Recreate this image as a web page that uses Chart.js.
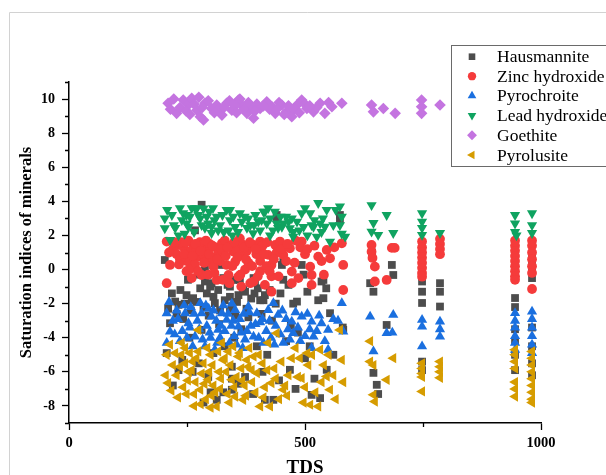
<!DOCTYPE html>
<html>
<head>
<meta charset="utf-8">
<script src="https://cdn.jsdelivr.net/npm/chart.js@4.4.1/dist/chart.umd.min.js"></script>
<style>
html,body{margin:0;padding:0;background:#fff;}
#wrap{width:606px;height:475px;position:relative;}
</style>
</head>
<body>
<div id="wrap"><canvas id="c" width="606" height="475"></canvas></div>
<script>
// ---- data: [TDS, saturation index] ----
const seriesNames = ["Hausmannite","Zinc hydroxide","Pyrochroite","Lead hydroxide","Goethite","Pyrolusite"];
const xTickLabels = [0, 500, 1000];
const yTickLabels = [-8,-6,-4,-2,0,2,4,6,8,10];

const hausmannite = [
[203,0.56],[207,-4.9],[214,-3.15],[225,-1.88],[232,-2.07],[245,-2.0],[249,-1.5],[260,-1.8],[263,-1.68],[278,-1.1],
[281,-3.54],[288,0],[288,-0.7],[299,-1.0],[306,-1.6],[306,-4.9],[309,-1.97],[313,-7.64],[324,0.27],[327,-0.5],
[341,-1.0],[341,-1.6],[341,-2.4],[345,-2.17],[345,-5.7],[345,-6.4],[345,-7.05],[348,-0.61],[359,-1.5],[369,-1.2],
[373,-1.3],[373,-6.3],[391,-0.5],[393,-1.4],[394,-0.7],[405,-1.8],[412,-1.8],[415,-1.5],[415,-7.64],[433,-7.64],
[440,3.0],[440,3.2],[451,0.27],[454,0.46],[454,-0.6],[468,-5.88],[475,-2.0],[483,-1.88],[485,-3.7],[493,0.27],
[497,-0.3],[514,-7.35],[528,-1.8],[532,-7.54],[535,-0.7],[539,-1.68],[539,-0.61],[546,-5.88],[553,-2.56],[574,3.2],
[574,2.9],[581,-3.54],[267,2.3],[281,3.8],[262,-6.0],[275,-5.5],[295,-6.3],[300,-7.2],[330,-4.5],[350,-4.0],
[365,-3.5],[398,-4.5],[420,-5.0],[445,-6.5],[460,-4.2],[500,-5.2],[520,-6.4],[560,-5.0],[240,-5.3],[220,-6.8],
[255,-4.0],[318,-3.2],[380,-2.8],[430,-3.0],
[210,-2.3],[218,-1.4],[228,-2.6],[236,-1.2],[242,-2.9],[252,-0.6],[258,-2.4],[270,-1.9],[274,-0.3],[285,-2.2],
[292,-1.4],[296,-2.7],[302,-0.8],[316,-1.2],[320,-2.4],[330,-1.8],[336,-0.9],[352,-2.7],[356,-1.9],[362,-0.6],
[376,-2.3],[386,-1.7],[400,-1.1],[408,-2.6],[425,-1.2],[438,-2.0],[448,-1.4],[465,-0.9],[470,-3.3],[505,-1.3],
[545,-1.1],[232,-5.9],[285,-7.8],[327,-7.2],[358,-6.7],[390,-7.3],[410,-6.0],[480,-7.0],[510,-4.5],
[580,-3.4],[638,-0.8],[642,1.0],[645,-1.3],[673,-3.25],[684,0.27],[687,-0.32],[645,-6.06],[652,-6.76],[655,-7.3],
[748,-0.7],[748,-1.3],[748,-1.96],[748,-5.4],[748,-5.9],[786,-0.8],[786,-1.3],[786,-2.17],
[945,-1.67],[945,-2.2],[945,-3.5],[945,-4.2],[945,-5.0],[945,-5.9],[981,0.76],[981,0.4],[981,0],[981,-0.5],
[981,-3.4],[981,-4.5],[981,-5.5],[981,-6.2]
];

const zincHydroxide = [
[207,1.64],[214,0.27],[207,-0.8],[231,1.44],[242,1.34],[249,1.05],[249,0.5],[249,-0.1],[256,0.46],[263,1.44],
[274,0.76],[281,-0.32],[288,1.44],[295,0.46],[306,0.17],[313,-0.61],[324,1.54],[327,0.95],[334,0.27],[338,-0.32],
[348,1.05],[352,0.46],[359,-0.41],[362,1.83],[369,0.86],[373,0],[384,-0.8],[387,1.44],[391,1.44],[391,-0.7],
[405,1.64],[405,1.1],[405,0.5],[405,-0.1],[415,-0.9],[422,0.86],[429,0.27],[429,-0.4],[429,-1.3],[437,1.44],
[447,1.64],[454,0.86],[468,1.25],[472,-0.12],[472,-0.8],[490,1.3],[493,1.64],[511,0.17],[514,-0.32],[514,-0.9],
[528,0.76],[546,1.15],[553,0.66],[578,1.54],[581,0.27],[581,-1.2],
[220,1.2],[228,0.9],[235,0.6],[238,1.6],[253,1.7],[258,1.1],[267,0.3],[270,1.2],[277,1.6],[284,0.9],
[292,1.1],[298,1.5],[302,0.7],[310,1.3],[317,1.0],[320,0.5],[330,1.7],[343,1.4],[355,1.2],[366,1.5],
[377,1.1],[380,0.4],[397,0.9],[410,1.4],[418,0.2],[440,1.0],[460,0.5],[480,1.7],[500,0.9],[520,1.4],
[540,-0.3],[295,-0.3],[260,-0.5],[340,-0.8],[365,-1.0],
[212,1.0],[224,1.6],[233,0.3],[244,0.9],[247,1.6],[255,0.0],[262,0.8],[268,1.5],[273,-0.1],[279,1.1],
[286,0.4],[290,1.7],[297,0.9],[304,1.4],[308,-0.2],[314,0.6],[322,1.2],[326,-0.6],[332,0.8],[336,1.3],
[346,0.2],[350,1.6],[357,0.7],[363,-0.3],[371,1.3],[375,0.6],[383,1.6],[388,0.2],[395,1.2],[400,-0.4],
[413,0.9],[420,1.6],[425,-0.1],[434,0.6],[444,-0.4],[450,1.2],[463,1.5],[478,0.4],[486,-0.5],[505,1.2],
[535,0.5],[562,1.3],
[641,1.44],[641,1.05],[643,0.68],[648,0.17],[648,-0.7],[673,-0.61],[684,1.27],[690,1.27],
[748,1.64],[748,1.3],[748,1.0],[748,0.7],[748,0.4],[748,0.1],[748,-0.2],[748,-0.42],
[786,1.8],[786,1.5],[786,1.2],[786,0.9],
[945,1.7],[945,1.4],[945,1.1],[945,0.8],[945,0.5],[945,0.2],[945,-0.1],[945,-0.4],[945,-0.6],
[981,1.7],[981,1.4],[981,1.0],[981,0.6],[981,0.2],[981,-0.2],[981,-1.14]
];

const pyrochroite = [
[207,-2.56],[207,-4.3],[214,-3.64],[246,-2.56],[253,-3.15],[278,-1.97],[281,-2.56],[267,-3.93],[302,-2.76],[316,-3.54],
[324,-2.56],[334,-2.95],[352,-2.37],[359,-3.35],[380,-2.17],[373,-4.1],[309,-4.7],[288,-4.5],[235,-4.2],[398,-2.56],
[422,-2.37],[433,-1.97],[443,-2.66],[454,-4.3],[472,-3.05],[475,-3.73],[493,-2.76],[514,-3.05],[518,-3.93],[535,-3.15],
[549,-3.54],[549,-4.7],[578,-1.97],[412,-4.3],[468,-4.1],[391,-3.93],[514,-4.6],
[220,-3.0],[228,-2.4],[240,-3.6],[258,-2.2],[262,-4.5],[272,-3.0],[292,-3.3],[296,-2.3],[312,-3.0],[320,-4.0],
[330,-3.6],[340,-4.3],[345,-2.0],[348,-3.0],[365,-3.7],[370,-2.6],[385,-3.3],[405,-3.1],[418,-3.6],[428,-4.0],
[438,-3.3],[448,-3.8],[460,-2.9],[485,-3.4],[500,-3.9],[505,-2.6],[525,-3.6],[560,-2.9],[300,-4.0],[355,-4.4],
[212,-1.9],[224,-3.8],[231,-2.9],[244,-2.1],[250,-4.0],[256,-3.4],[265,-2.6],[276,-3.5],[283,-4.1],[290,-2.1],
[298,-3.7],[306,-2.4],[314,-4.3],[322,-3.3],[327,-2.1],[337,-2.6],[344,-3.3],[350,-3.9],[362,-2.9],[368,-4.6],
[377,-3.6],[382,-2.5],[395,-3.2],[402,-4.0],[410,-2.9],[425,-3.0],[435,-4.4],[452,-2.4],[464,-3.5],[480,-2.5],
[490,-4.2],[510,-3.5],[530,-2.7],[542,-4.2],[570,-3.0],
[581,-3.64],[638,-2.76],[687,-2.66],[673,-3.73],[685,-3.7],[645,-4.8],
[748,-2.95],[748,-3.35],[748,-4.5],[786,-3.05],[786,-3.5],[786,-3.93],
[945,-2.55],[945,-3.0],[945,-3.4],[945,-3.9],[945,-4.3],[945,-4.7],
[981,-2.47],[981,-2.9],[981,-3.4],[981,-3.9],[981,-4.4],[981,-4.9]
];

const leadHydroxide = [
[203,3.0],[203,2.42],[214,1.73],[225,2.44],[239,2.9],[242,3.3],[249,2.71],[249,3.2],[256,3.1],[260,3.6],
[267,3.6],[271,3.59],[274,3.2],[281,2.6],[285,3.59],[288,2.44],[292,3.1],[302,2.14],[302,2.51],[313,3.1],
[320,2.6],[334,3.5],[341,2.9],[341,3.49],[352,2.5],[358,2.2],[366,2.8],[377,2.44],[384,2.6],[390,2.13],
[401,2.81],[412,3.4],[415,3.39],[419,2.7],[426,2.0],[426,3.0],[440,2.71],[443,2.44],[451,2.51],[454,2.7],
[468,2.42],[472,3.0],[475,2.2],[475,1.93],[483,2.81],[493,3.3],[497,2.5],[511,3.3],[514,2.6],[518,2.51],
[525,1.93],[528,3.9],[532,2.71],[535,2.2],[542,2.51],[546,3.5],[553,1.64],[574,3.7],[574,2.6],[578,3.1],
[578,2.1],[585,1.93],
[218,3.2],[232,2.0],[265,2.2],[297,3.4],[308,2.9],[328,2.2],[346,2.0],[372,3.1],[395,3.2],[405,2.3],
[432,2.3],[460,3.1],[505,2.0],
[208,3.5],[222,2.6],[235,3.6],[245,2.1],[253,2.5],[278,3.0],[295,2.7],[305,3.6],[316,2.3],[325,3.2],
[338,2.3],[348,3.1],[362,3.3],[380,3.0],[392,2.6],[408,2.9],[422,3.6],[436,3.4],[448,3.1],[465,2.8],
[488,2.3],[500,3.6],[520,2.9],[538,3.0],[560,2.6],[565,3.5],
[641,3.78],[673,3.2],[645,2.73],[641,2.22],[655,2.03],[687,2.14],
[748,3.3],[748,2.8],[748,2.44],[748,2.03],[786,2.14],
[945,3.2],[945,2.7],[945,2.2],[948,2.0],[981,3.3],[981,2.6],[981,2.14]
];

const goethite = [
[210,9.75],[228,9.16],[242,9.94],[253,9.65],[260,10.04],[271,9.35],[278,8.96],[285,8.77],[288,9.75],[302,9.45],
[313,9.65],[324,9.06],[334,9.75],[345,9.35],[359,9.94],[366,9.65],[377,9.16],[384,9.55],[391,8.87],[405,9.45],
[419,9.84],[430,9.55],[437,9.16],[451,9.65],[461,9.25],[472,8.96],[483,9.65],[493,9.94],[504,9.45],[518,9.25],
[532,9.75],[542,9.16],[557,9.55],[578,9.75],
[235,9.5],[248,9.3],[265,9.7],[295,9.9],[318,9.4],[340,9.9],[352,9.6],[370,9.4],[398,9.7],[425,9.4],
[445,9.8],[465,9.6],[500,9.7],[525,9.5],
[215,9.4],[222,10.0],[256,9.1],[275,10.1],[282,9.5],[308,9.2],[328,9.5],[355,9.2],[362,10.0],[380,9.8],
[394,9.3],[412,9.6],[440,9.4],[456,9.1],[478,9.4],[488,9.2],[510,9.6],[550,9.8],
[641,9.65],[645,9.25],[666,9.45],[691,9.16],[747,9.94],[747,9.55],[747,9.16],[786,9.65]
];

const pyrolusite = [
[207,-5.0],[210,-6.66],[239,-4.3],[246,-4.6],[246,-5.5],[235,-5.7],[260,-5.9],[274,-3.54],[281,-6.1],[278,-7.05],
[295,-6.47],[306,-6.8],[313,-8.03],[324,-4.3],[327,-5.3],[345,-6.47],[352,-7.45],[359,-5.1],[377,-5.3],[369,-7.64],
[387,-5.88],[391,-5.1],[398,-6.07],[405,-8.03],[426,-8.03],[422,-4.3],[429,-6.66],[440,-3.73],[454,-7.05],[458,-6.8],
[472,-5.2],[489,-5.2],[493,-6.37],[507,-5.6],[511,-7.93],[528,-8.03],[532,-4.7],[546,-6.27],[553,-7.05],[574,-3.54],
[578,-5.3],[581,-6.6],[522,-7.2],
[220,-5.6],[228,-6.2],[252,-6.5],[256,-4.9],[265,-7.3],[270,-5.2],[285,-5.5],[290,-7.6],[300,-5.0],[302,-7.4],
[318,-6.0],[320,-7.0],[333,-6.0],[338,-4.8],[340,-7.8],[355,-6.3],[365,-5.8],[372,-6.8],[382,-4.6],[395,-7.2],
[410,-5.5],[415,-6.9],[435,-5.8],[445,-7.6],[465,-6.2],[480,-4.6],[500,-6.9],[515,-5.0],[540,-5.6],[560,-6.2],
[300,-8.1],[265,-8.0],[242,-6.9],[214,-4.4],
[205,-6.2],[217,-7.1],[225,-4.9],[231,-7.5],[238,-5.0],[249,-7.3],[254,-6.0],[262,-5.4],[268,-6.6],[274,-4.8],
[279,-7.9],[287,-6.7],[293,-4.6],[297,-6.0],[304,-5.6],[310,-7.2],[316,-4.8],[322,-6.4],[330,-5.2],[336,-7.3],
[342,-5.6],[348,-4.5],[350,-6.9],[362,-4.9],[367,-6.5],[375,-7.4],[380,-5.7],[388,-6.6],[402,-5.0],[412,-7.5],
[420,-5.9],[438,-6.4],[450,-5.4],[462,-7.4],[485,-6.3],[497,-7.8],[505,-4.9],[535,-6.6],[550,-5.0],[565,-7.6],
[638,-4.2],[638,-5.4],[645,-5.6],[673,-6.47],[645,-7.35],[648,-7.74],[687,-5.2],
[748,-5.5],[748,-5.8],[748,-6.1],[748,-6.3],[748,-7.15],[786,-5.4],[786,-5.7],[786,-6.0],[786,-6.35],
[945,-4.7],[945,-5.0],[945,-5.4],[945,-5.8],[945,-6.6],[945,-7.0],[945,-7.45],
[981,-4.8],[981,-5.2],[981,-5.6],[981,-6.0],[981,-6.4],[981,-6.8],[981,-7.2],[981,-7.6],[981,-7.8]
];

const seriesData = [hausmannite, zincHydroxide, pyrochroite, leadHydroxide, goethite, pyrolusite];
const seriesColors = ["#4d4d4d","#f53b3b","#1a6fdf","#0fa360","#c474e0","#d69c00"];
const seriesStyles = [
  {pointStyle:'rect', radius:5.5, rotation:0},
  {pointStyle:'circle', radius:4.9, rotation:0},
  {pointStyle:'triangle', radius:5.9, rotation:0},
  {pointStyle:'triangle', radius:5.9, rotation:180},
  {pointStyle:'rectRot', radius:5.8, rotation:0},
  {pointStyle:'triangle', radius:5.9, rotation:270}
];

const SERIF = '"Liberation Serif", "Times New Roman", serif';

const datasets = seriesNames.map((name, i) => ({
  label: name,
  data: seriesData[i].map(p => ({x: p[0], y: p[1]})),
  backgroundColor: seriesColors[i],
  borderColor: seriesColors[i],
  pointStyle: seriesStyles[i].pointStyle,
  pointRadius: seriesStyles[i].radius,
  pointRotation: seriesStyles[i].rotation,
  pointBorderWidth: 0,
  pointHoverRadius: seriesStyles[i].radius,
  order: seriesNames.length - i
}));

const framePlugin = {
  id: 'frame',
  beforeDraw(chart) {
    const ctx = chart.ctx;
    ctx.save();
    ctx.fillStyle = '#fff';
    ctx.fillRect(0, 0, chart.width, chart.height);
    ctx.strokeStyle = '#d2d2d2';
    ctx.lineWidth = 1;
    ctx.beginPath();
    ctx.moveTo(9.5, 475); ctx.lineTo(9.5, 12.5); ctx.lineTo(606, 12.5);
    ctx.stroke();
    ctx.restore();
  }
};

const minorTickPlugin = {
  id: 'minorTicks',
  afterDraw(chart) {
    const ctx = chart.ctx;
    const xs = chart.scales.x, ys = chart.scales.y;
    ctx.save();
    ctx.strokeStyle = '#000';
    ctx.lineWidth = 1.3;
    ctx.beginPath();
    for (let v = -9; v <= 11; v++) {
      if (v % 2 !== 0) {
        const py = Math.round(ys.getPixelForValue(v)) + 0.5;
        ctx.moveTo(xs.left - 4, py); ctx.lineTo(xs.left, py);
      }
    }
    [250, 750].forEach(v => {
      const px = Math.round(xs.getPixelForValue(v)) + 0.5;
      ctx.moveTo(px, ys.bottom); ctx.lineTo(px, ys.bottom + 4);
    });
    ctx.stroke();
    ctx.restore();
  }
};

const legendPlugin = {
  id: 'boxLegend',
  afterDraw(chart) {
    const ctx = chart.ctx;
    ctx.save();
    ctx.fillStyle = '#fff';
    ctx.fillRect(451.5, 45.5, 170, 121);
    ctx.strokeStyle = '#6a6a6a';
    ctx.lineWidth = 1;
    ctx.strokeRect(451.5, 45.5, 170, 121);
    const rows = [56.7, 76.2, 95.8, 115.6, 135.3, 155];
    seriesNames.forEach((name, i) => {
      ctx.fillStyle = seriesColors[i];
      ctx.strokeStyle = seriesColors[i];
      Chart.helpers.drawPoint(ctx, {
        pointStyle: seriesStyles[i].pointStyle,
        radius: seriesStyles[i].radius * 0.85,
        rotation: seriesStyles[i].rotation,
        borderWidth: 0
      }, 472, rows[i]);
      ctx.fillStyle = '#000';
      ctx.font = '17.5px ' + SERIF;
      ctx.textBaseline = 'middle';
      ctx.textAlign = 'left';
      ctx.fillText(name, 497, rows[i] + 1);
    });
    ctx.restore();
  }
};

Chart.defaults.color = '#000';

new Chart(document.getElementById('c'), {
  type: 'scatter',
  data: { datasets },
  options: {
    responsive: false,
    animation: false,
    devicePixelRatio: 1,
    layout: { padding: { left: 0, top: 82, right: 65, bottom: 0 } },
    plugins: { legend: { display: false }, tooltip: { enabled: false } },
    scales: {
      x: {
        type: 'linear', min: 0, max: 1000,
        afterFit(s) { s.height = 52; },
        border: { display: true, color: '#000', width: 1.5 },
        grid: { drawOnChartArea: false, drawTicks: true, tickLength: 7, tickWidth: 1.3,
                tickColor: c => (c.tick && xTickLabels.includes(c.tick.value)) ? '#000' : 'rgba(0,0,0,0)' },
        ticks: { stepSize: 250, autoSkip: false, maxRotation: 0, padding: 5,
                 font: { family: SERIF, size: 14.5, weight: 'bold' },
                 callback: v => xTickLabels.includes(v) ? String(v) : '' },
        title: { display: true, text: 'TDS', font: { family: SERIF, size: 19, weight: 'bold', lineHeight: 1 },
                 padding: { top: 0, bottom: -3 } }
      },
      y: {
        type: 'linear', min: -9, max: 11,
        afterFit(s) { s.width = 69; },
        border: { display: true, color: '#000', width: 1.5 },
        grid: { drawOnChartArea: false, drawTicks: true, tickLength: 7, tickWidth: 1.3,
                tickColor: c => (c.tick && yTickLabels.includes(c.tick.value)) ? '#000' : 'rgba(0,0,0,0)' },
        ticks: { stepSize: 1, autoSkip: false, padding: 7,
                 font: { family: SERIF, size: 14, weight: 'bold' },
                 callback: v => yTickLabels.includes(v) ? String(v) : '' },
        title: { display: true, text: 'Saturation indices of minerals',
                 font: { family: SERIF, size: 16.5, weight: 'bold' }, padding: { top: 17, bottom: 0 } }
      }
    }
  },
  plugins: [framePlugin, minorTickPlugin, legendPlugin]
});
</script>
</body>
</html>
